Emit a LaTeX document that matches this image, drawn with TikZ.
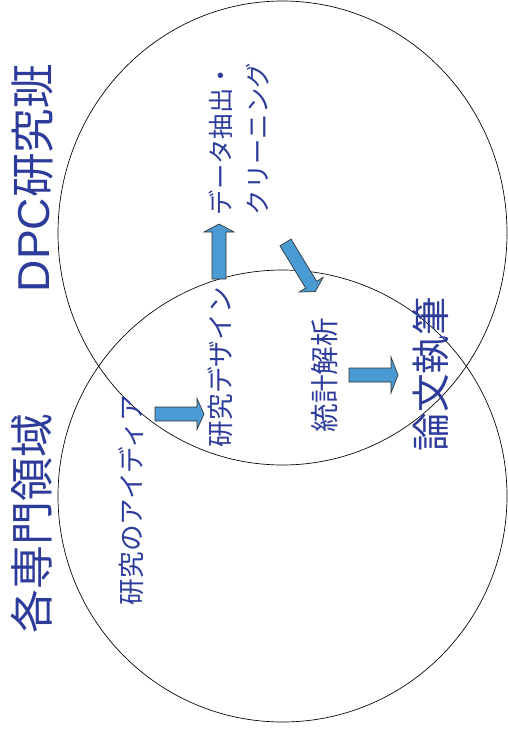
\documentclass[tikz,border=0pt]{standalone}
\usepackage{fontspec}
\newfontfamily\jp{Noto Sans CJK JP}
\newfontfamily\lat{Liberation Sans}
\usetikzlibrary{shapes.geometric}
\definecolor{txtblue}{RGB}{45,60,155}
\definecolor{arrfill}{RGB}{74,155,212}
\definecolor{arrline}{RGB}{50,50,50}
\tikzset{
  ring/.style={draw=black, line width=0.5pt, ellipse, inner sep=0pt},
  lbl/.style={text=txtblue, rotate=90, inner sep=0pt, anchor=center},
  blockfill/.style={fill=arrfill, draw=arrline, line width=0.5pt, line join=miter},
  pics/barrow/.style n args={4}{code={
    \draw[blockfill] (0,-#2) -- (#1-#4,-#2) -- (#1-#4,-#3) -- (#1,0)
      -- (#1-#4,#3) -- (#1-#4,#2) -- (0,#2) -- cycle;
  }}
}
\begin{document}
\begin{tikzpicture}[x=0.75pt,y=-0.75pt]
\useasboundingbox (0,0) rectangle (507,735);
% circles
\node[ring, minimum width=336.75pt, minimum height=348pt] (upper) at (282.5,233) {};
\node[ring, minimum width=336.75pt, minimum height=339pt] (lower) at (282.5,496) {};
% big titles
\node[lbl, font=\fontsize{33.5}{36}\selectfont] (dpc) at (33,178) {\lat DPC\jp 研究班};
\node[lbl, font=\jp\fontsize{33}{36}\selectfont] (senmon) at (32,523) {各専門領域};
% steps
\node[lbl, font=\jp\fontsize{20}{24}\selectfont] (idea) at (131,500) {研究のアイディア};
\node[lbl, font=\jp\fontsize{20}{24}\selectfont] (design) at (220,367) {研究デザイン};
\node[lbl, font=\jp\fontsize{19}{27.75}\selectfont, align=center] (data) at (239.5,139) {データ抽出・\\クリーニング};
\node[lbl, font=\jp\fontsize{21.5}{24}\selectfont] (stats) at (325,375) {統計解析};
\node[lbl, font=\jp\fontsize{29}{32}\selectfont] (paper) at (431,374) {論文執筆};
% block arrows
\pic at (155,414) {barrow={49}{7}{15.5}{7}};
\pic[rotate=90] at (219,279) {barrow={55}{7}{15}{8}};
\pic[rotate=-58.7] at (285.5,242.5) {barrow={57.4}{6.5}{14}{8}};
\pic at (349,375) {barrow={49}{7}{18}{7}};
\end{tikzpicture}
\end{document}
